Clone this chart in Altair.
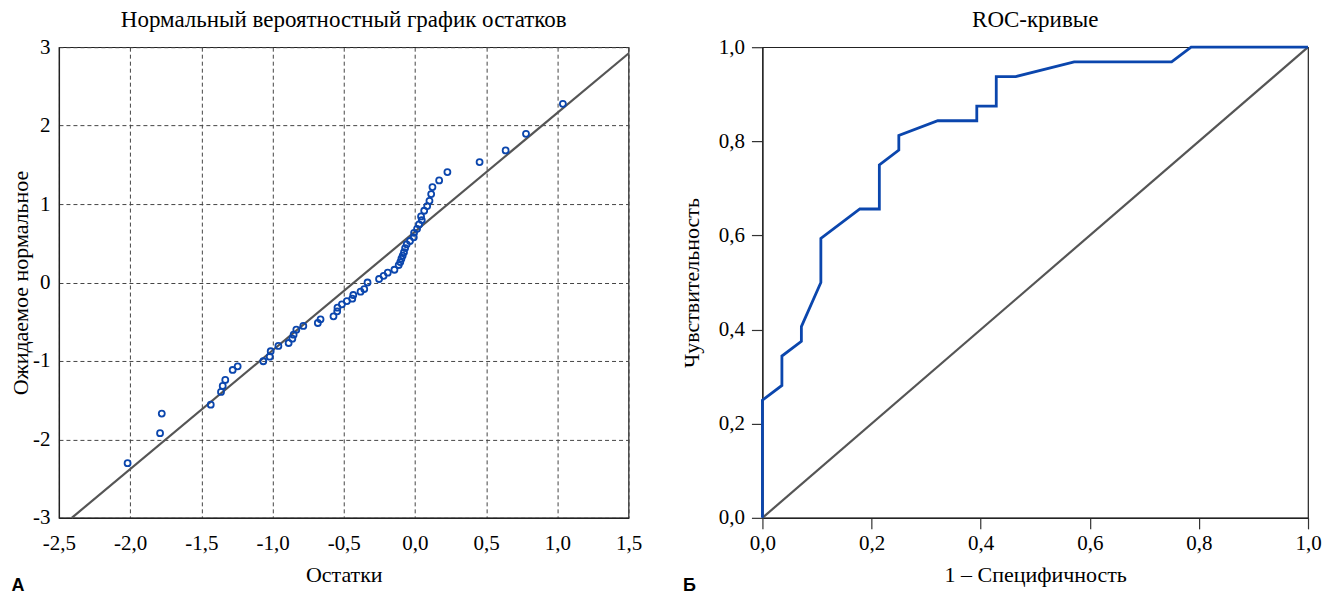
import altair as alt
import pandas as pd

# ---- Panel A: normal probability plot of residuals ----
resid = [-2.018, -1.790, -1.778, -1.434, -1.362, -1.350, -1.332, -1.280, -1.245, -1.065,
         -1.020, -1.013, -0.959, -0.887, -0.861, -0.852, -0.833, -0.784, -0.682, -0.663,
         -0.572, -0.546, -0.544, -0.513, -0.478, -0.440, -0.433, -0.382, -0.356, -0.333,
         -0.252, -0.220, -0.191, -0.144, -0.114, -0.103, -0.095, -0.086, -0.077, -0.069,
         -0.058, -0.035, -0.008, -0.006, 0.015, 0.029, 0.048, 0.043, 0.065, 0.086,
         0.102, 0.114, 0.123, 0.170, 0.228, 0.454, 0.637, 0.780, 1.039]
expected = [-2.303, -1.921, -1.671, -1.557, -1.395, -1.318, -1.242, -1.115, -1.068, -1.004,
            -0.945, -0.876, -0.809, -0.771, -0.716, -0.665, -0.601, -0.554, -0.516, -0.469,
            -0.431, -0.367, -0.321, -0.278, -0.236, -0.206, -0.159, -0.117, -0.083, 0.000,
            0.045, 0.085, 0.125, 0.163, 0.223, 0.261, 0.303, 0.344, 0.386, 0.439,
            0.487, 0.529, 0.576, 0.634, 0.685, 0.741, 0.796, 0.843, 0.915, 0.975,
            1.042, 1.127, 1.217, 1.302, 1.408, 1.535, 1.684, 1.896, 2.278]
ref_line_x = [-2.41, 1.5]
ref_line_y = [-3.0, 2.92]
x_ticks_a = [-2.5, -2.0, -1.5, -1.0, -0.5, 0.0, 0.5, 1.0, 1.5]
y_ticks_a = [-3, -2, -1, 0, 1, 2, 3]

# ---- Panel B: ROC curve ----
roc_fpr = [0.0, 0.0, 0.0357, 0.0357, 0.0714, 0.0714, 0.1071, 0.1071, 0.1786, 0.2143,
           0.2143, 0.25, 0.25, 0.3214, 0.3929, 0.3929, 0.4286, 0.4286, 0.4643, 0.5714,
           0.75, 0.7857, 1.0]
roc_tpr = [0.0, 0.25, 0.28125, 0.34375, 0.375, 0.40625, 0.5, 0.59375, 0.65625, 0.65625,
           0.75, 0.78125, 0.8125, 0.84375, 0.84375, 0.875, 0.875, 0.9375, 0.9375, 0.96875,
           0.96875, 1.0, 1.0]
diag_x = [0.0, 1.0]
diag_y = [0.0, 1.0]
ticks_b = [0.0, 0.2, 0.4, 0.6, 0.8, 1.0]

panel_letters = ["А", "Б"]

SERIF = "Liberation Serif"
BLUE = "#0b46ad"
GRAY = "#555555"
LAB = 21
TIT = 22

minus_fix = "replace(replace(format(datum.value, '.1f'), '.', ','), '\u2212', '-')"
int_fix = "replace(format(datum.value, 'd'), '\u2212', '-')"
comma_fix = "replace(format(datum.value, '.1f'), '.', ',')"

pts = pd.DataFrame({"x": resid, "y": expected})
ref = pd.DataFrame({"x": ref_line_x, "y": ref_line_y})

xa = alt.X("x:Q", scale=alt.Scale(domain=[-2.5, 1.5], nice=False, zero=False),
           axis=alt.Axis(values=x_ticks_a, labelExpr=minus_fix, title="Остатки",
                         grid=True, gridDash=[4, 3], gridColor="#444", ticks=False,
                         labelPadding=15, titlePadding=11))
ya = alt.Y("y:Q", scale=alt.Scale(domain=[-3, 3], nice=False, zero=False),
           axis=alt.Axis(values=y_ticks_a, labelExpr=int_fix, title="Ожидаемое нормальное",
                         grid=True, gridDash=[4, 3], gridColor="#444", ticks=False,
                         labelPadding=9, titlePadding=0))

line_a = alt.Chart(ref).mark_line(color=GRAY, strokeWidth=2.2).encode(x=xa, y=ya)
pts_a = alt.Chart(pts).mark_point(shape="circle", filled=False, color=BLUE,
                                  strokeWidth=1.8, size=36, opacity=1).encode(x=xa, y=ya)
lab_a = alt.Chart(pd.DataFrame({"t": [panel_letters[0]]})).mark_text(
    font="Liberation Sans", fontWeight="bold", fontSize=18, align="center",
    baseline="middle", color="black").encode(
    text="t:N", x=alt.value(-41), y=alt.value(539))

chart_a = alt.layer(line_a, pts_a, lab_a).properties(
    width=570, height=471,
    title=alt.TitleParams("Нормальный вероятностный график остатков", font=SERIF,
                          fontSize=23, fontWeight="normal", color="black",
                          anchor="middle", offset=4))

roc = pd.DataFrame({"x": roc_fpr, "y": roc_tpr, "i": list(range(len(roc_fpr)))})
diag = pd.DataFrame({"x": diag_x, "y": diag_y})

xb = alt.X("x:Q", scale=alt.Scale(domain=[0, 1], nice=False),
           axis=alt.Axis(values=ticks_b, labelExpr=comma_fix, title="1 – Специфичность",
                         grid=False, tickSize=11, labelPadding=4, titlePadding=11))
yb = alt.Y("y:Q", scale=alt.Scale(domain=[0, 1], nice=False),
           axis=alt.Axis(values=ticks_b, labelExpr=comma_fix, title="Чувствительность",
                         grid=False, tickSize=11, labelPadding=7, titlePadding=15))

diag_b = alt.Chart(diag).mark_line(color=GRAY, strokeWidth=2.2).encode(x=xb, y=yb)
roc_b = alt.Chart(roc).mark_line(color=BLUE, strokeWidth=2.8).encode(
    x=xb, y=yb, order=alt.Order("i:Q"))
lab_b = alt.Chart(pd.DataFrame({"t": [panel_letters[1]]})).mark_text(
    font="Liberation Sans", fontWeight="bold", fontSize=18, align="center",
    baseline="middle", color="black").encode(
    text="t:N", x=alt.value(-73), y=alt.value(539))

chart_b = alt.layer(diag_b, roc_b, lab_b).properties(
    width=546, height=471,
    title=alt.TitleParams("ROC-кривые", font=SERIF, fontSize=23, fontWeight="normal",
                          color="black", anchor="middle", offset=4))

chart = alt.hconcat(chart_a, chart_b, spacing=134, bounds="flush").properties(
    padding={"left": 0, "top": 0, "right": 0, "bottom": 0},
).configure_view(stroke="#222", strokeWidth=1.2).configure_axis(
    labelFont=SERIF, titleFont=SERIF, labelFontSize=LAB, titleFontSize=TIT,
    labelColor="black", titleColor="black", titleFontWeight="normal",
    domainColor="#222", domainWidth=1.2, tickColor="#333", tickWidth=1.2,
    labelFlush=False,
)

chart.save("out.html", embed_options={"renderer": "svg", "actions": False})
